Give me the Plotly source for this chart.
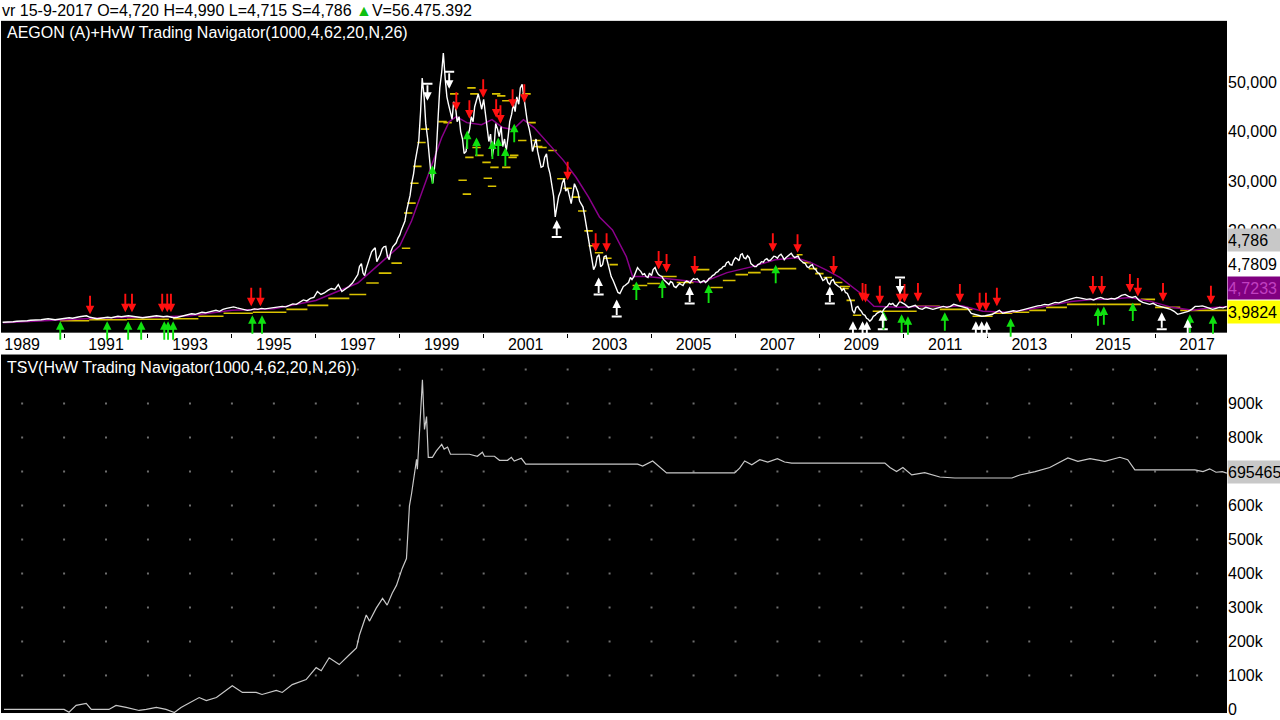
import numpy as np
import pandas as pd
import plotly.graph_objects as go

W, H = 1280, 720

# ---------------- data ----------------
header_text = "vr 15-9-2017 O=4,720 H=4,990 L=4,715 S=4,786 "
header_vol = "V=56.475.392"
title_top = "AEGON (A)+HvW Trading Navigator(1000,4,62,20,N,26)"
title_bottom = "TSV(HvW Trading Navigator(1000,4,62,20,N,26))"

# monthly (mid-month) closing prices, Jul 1988 .. Sep 2017
price_close = [
    1.6, 1.6, 1.7, 1.7, 1.8, 1.8,                                   # 1988 Jul-Dec
    1.9, 1.9, 2.0, 2.0, 2.1, 2.1, 2.2, 2.3, 2.2, 2.1, 2.2, 2.3,     # 1989
    2.4, 2.5, 2.4, 2.6, 2.7, 2.8, 2.9, 2.6, 2.4, 2.3, 2.4, 2.5,     # 1990
    2.6, 2.5, 2.7, 2.8, 2.7, 2.8, 2.9, 2.8, 2.7, 2.6, 2.5, 2.6,     # 1991
    2.7, 2.8, 2.9, 2.8, 2.7, 2.8, 2.6, 2.5, 2.6, 2.8, 3.0, 3.1,     # 1992
    3.3, 3.2, 3.4, 3.6, 3.5, 3.7, 3.9, 4.0, 3.8, 4.2, 4.4, 4.5,     # 1993
    4.7, 4.5, 4.3, 4.2, 4.0, 4.1, 4.3, 4.2, 4.4, 4.3, 4.4, 4.5,     # 1994
    4.5, 4.6, 4.8, 4.7, 5.0, 5.3, 5.2, 5.6, 6.1, 5.9, 6.4, 6.6,     # 1995
    7.8, 7.2, 7.5, 8.0, 8.4, 8.2, 9.2, 7.8, 8.3, 8.8, 9.5, 10.5,    # 1996
    12.8, 11.5, 12.4, 14.5, 16.2, 13.8, 15.2, 16.8, 14.9, 15.8, 17.2, 18.5,  # 1997
    20.2, 22.0, 25.5, 29.6, 34.0, 38.0, 50.8, 41.6, 35.0, 29.6, 36.0, 48.8,  # 1998
    55.8, 47.0, 44.0, 46.0, 42.0, 40.0, 35.6, 39.0, 43.0, 45.0, 47.6, 44.5,  # 1999
    44.0, 38.0, 35.0, 41.6, 39.0, 37.0, 36.0, 42.0, 45.6, 47.0, 48.8, 46.8,  # 2000
    42.0, 38.8, 37.0, 36.0, 32.8, 34.8, 33.0, 29.0, 22.8, 27.0, 29.6, 28.0,  # 2001
    26.8, 27.5, 28.8, 26.0, 24.8, 20.8, 16.8, 12.2, 14.8, 12.8, 14.8, 13.6,  # 2002
    10.8, 9.2, 7.6, 8.2, 9.0, 9.6, 10.2, 11.5, 12.2, 11.2, 10.8, 11.5,       # 2003
    12.2, 11.8, 11.0, 10.2, 9.6, 9.8, 8.8, 9.0, 9.2, 9.6, 9.8, 10.0,         # 2004
    10.2, 10.0, 9.8, 9.6, 10.4, 11.0, 11.6, 12.2, 12.8, 13.6, 13.2, 14.0,    # 2005
    14.4, 15.2, 14.6, 15.0, 13.4, 12.8, 13.2, 13.8, 14.2, 14.0, 14.5, 14.8,  # 2006
    15.0, 14.8, 14.6, 15.2, 15.0, 14.8, 14.2, 13.6, 12.8, 13.0, 12.4, 11.6,  # 2007
    10.8, 10.2, 9.6, 10.0, 9.4, 8.8, 8.0, 7.6, 6.8, 4.0, 4.6, 4.2,           # 2008
    3.2, 2.4, 1.8, 2.8, 3.4, 3.8, 4.2, 4.8, 5.2, 5.0, 5.4, 5.6,              # 2009
    5.2, 4.6, 4.8, 5.0, 4.4, 4.2, 4.6, 4.4, 4.2, 4.4, 4.6, 4.8,              # 2010
    4.6, 4.8, 5.2, 5.0, 4.8, 4.6, 4.4, 3.4, 3.2, 3.0, 2.8, 2.9,              # 2011
    3.0, 3.2, 3.6, 4.0, 3.4, 3.6, 3.8, 3.9, 3.8, 4.0, 4.2, 4.4,              # 2012
    4.6, 4.8, 4.9, 5.0, 5.2, 5.1, 5.3, 5.6, 5.5, 5.8, 6.0, 6.2,              # 2013
    6.4, 6.6, 6.5, 6.4, 6.2, 6.3, 6.1, 6.4, 6.6, 6.3, 6.2, 6.4,              # 2014
    6.3, 6.6, 7.0, 7.2, 6.8, 6.6, 6.8, 6.0, 5.6, 5.4, 5.2, 5.4,              # 2015
    5.0, 4.8, 4.6, 4.4, 4.2, 3.8, 3.2, 3.4, 3.6, 3.8, 4.2, 4.8,              # 2016
    4.8, 4.9, 4.7, 4.4, 4.2, 4.4, 4.6, 4.5, 4.786,                           # 2017 Jan-Sep
]

# start-of-month prices for the volatile years, Jan 1997 .. Dec 2009
price_month_start = [
    11.2, 13.4, 11.0, 13.6, 15.8, 16.6, 14.4, 16.4, 16.9, 14.2, 16.8, 17.6,  # 1997
    19.2, 21.4, 24.0, 27.2, 31.5, 36.5, 44.0, 47.0, 38.5, 31.0, 33.0, 43.0,  # 1998
    52.0, 50.5, 45.5, 42.5, 45.0, 43.0, 38.5, 36.0, 40.5, 42.0, 46.5, 46.0,  # 1999
    46.5, 41.0, 39.5, 37.0, 40.5, 41.0, 38.5, 39.0, 43.5, 44.0, 45.5, 49.5,  # 2000
    44.5, 40.5, 36.0, 38.5, 34.5, 33.0, 35.5, 31.5, 27.0, 25.0, 28.0, 30.5,  # 2001
    28.5, 25.5, 29.5, 27.8, 25.2, 22.6, 18.5, 14.5, 13.0, 15.2, 13.2, 15.0,  # 2002
    12.0, 10.0, 8.4, 7.4, 8.8, 9.4, 10.6, 10.8, 12.6, 11.8, 11.4, 10.6,      # 2003
    11.0, 12.6, 11.2, 10.8, 9.8, 9.2, 9.6, 8.6, 9.4, 9.0, 9.9, 9.5,          # 2004
    10.4, 10.4, 9.6, 10.0, 9.9, 10.6, 11.2, 11.8, 12.4, 12.9, 13.8, 13.1,    # 2005
    14.6, 14.0, 15.4, 14.4, 14.6, 13.0, 12.8, 13.4, 13.7, 14.4, 14.1, 14.9,  # 2006
    14.5, 15.3, 14.2, 14.9, 15.5, 14.6, 14.9, 13.8, 13.4, 12.6, 13.2, 12.2,  # 2007
    11.4, 10.0, 10.6, 9.2, 10.2, 9.0, 8.6, 8.4, 7.4, 5.8, 3.4, 4.8,          # 2008
    3.8, 3.0, 2.2, 2.2, 3.0, 3.6, 3.6, 4.6, 5.4, 5.4, 4.8, 5.8,              # 2009
]

# moving average (purple), decimal years
ma_t = [1988.55, 1990.0, 1991.0, 1992.0, 1993.0, 1994.0, 1995.0, 1996.0, 1997.0, 1997.5,
        1998.0, 1998.28, 1998.7, 1999.0, 1999.18, 1999.35, 1999.6, 1999.95, 2000.2, 2000.45,
        2000.7, 2000.95, 2001.2, 2001.55, 2001.9, 2002.2, 2002.5, 2002.76, 2003.07, 2003.4,
        2003.55, 2003.9, 2004.5, 2005.2, 2005.8, 2006.4, 2006.95, 2007.45, 2007.8, 2008.15,
        2008.5, 2008.96, 2009.3, 2009.9, 2010.5, 2011.0, 2011.4, 2011.9, 2012.5, 2013.0,
        2013.5, 2014.0, 2014.5, 2015.0, 2015.4, 2015.9, 2016.4, 2016.9, 2017.3, 2017.71]
ma_v = [1.5, 2.1, 2.5, 2.6, 2.9, 4.0, 4.3, 6.0, 9.5, 13.2,
        17.0, 22.0, 32.0, 38.8, 42.0, 43.0, 41.8, 41.4, 42.4, 40.8,
        40.4, 42.4, 40.8, 37.6, 34.2, 30.8, 26.8, 22.8, 20.2, 14.8,
        10.8, 10.8, 10.2, 9.6, 11.6, 12.8, 14.2, 14.6, 13.6, 12.2,
        10.6, 7.6, 4.8, 4.6, 4.8, 4.7, 4.9, 3.8, 3.6, 4.2,
        5.0, 5.8, 6.2, 6.3, 6.6, 5.8, 4.6, 4.0, 4.5, 4.7233]

# stop levels (yellow steps): start, end, level
stop_start = [1989.9, 1990.6, 1991.5, 1992.6, 1993.2, 1993.8, 1994.5, 1995.3, 1995.8, 1996.3,
              1996.8, 1997.2, 1997.5, 1997.8, 1998.05,
              2003.55, 2003.9, 2004.25, 2004.6, 2005.05, 2005.4, 2005.7, 2006.0, 2006.3, 2006.6,
              2007.0, 2007.46, 2008.49,
              2009.27, 2010.32, 2010.87, 2011.65, 2012.13, 2012.6, 2013.0, 2013.4, 2013.9,
              2014.6, 2015.66, 2016.0, 2016.6]
stop_end = [1990.6, 1991.5, 1992.5, 1993.2, 1993.8, 1994.5, 1995.3, 1995.8, 1996.3, 1996.8,
            1997.2, 1997.5, 1997.8, 1998.05, 1998.25,
            2003.9, 2004.2, 2004.6, 2005.0, 2005.38, 2005.7, 2006.0, 2006.3, 2006.6, 2007.0,
            2007.45, 2007.6, 2008.73,
            2010.32, 2010.87, 2011.65, 2012.13, 2012.6, 2013.0, 2013.4, 2013.9, 2014.6,
            2015.66, 2016.0, 2016.6, 2017.71]
stop_level = [1.9, 2.1, 2.2, 2.3, 2.8, 3.4, 3.6, 4.2, 5.0, 6.4,
              7.2, 9.5, 11.5, 13.5, 16.5,
              9.0, 9.4, 10.8, 9.6, 12.2, 8.6, 10.0, 11.2, 11.6, 12.2,
              12.4, 15.2, 8.8,
              3.8, 4.8, 4.2, 2.8, 3.4, 3.6, 4.0, 4.6, 5.2,
              5.2, 6.2, 4.6, 3.9824]

# short stop dashes (yellow)
dash_t = [1998.2, 1998.28, 1998.35, 1998.42, 1998.52, 1998.6, 1999.02, 1999.14, 1999.30, 1999.5,
          1999.6, 1999.66, 1999.71, 1999.78, 1999.83, 1999.90, 2000.07, 2000.1, 2000.2, 2000.26,
          2000.30, 2000.42, 2000.54, 2000.54, 2000.69, 2000.73, 2000.92, 2001.02, 2001.14, 2001.26,
          2001.3, 2001.40, 2001.64, 2001.85, 2002.0, 2002.2, 2002.35, 2002.5, 2002.6, 2002.75,
          2002.95, 2003.1, 2007.7, 2007.85, 2008.0, 2008.2, 2008.45, 2008.6, 2008.75, 2008.9]
dash_v = [23.6, 25.6, 29.6, 33.0, 37.8, 40.5, 42.0, 41.8, 47.6, 30.2,
          27.4, 34.8, 48.8, 47.6, 36.8, 35.2, 33.8, 30.6, 29.0, 32.8,
          47.6, 47.2, 46.2, 32.8, 34.8, 35.2, 38.2, 47.6, 41.8, 38.2,
          37.0, 36.8, 36.2, 30.5, 28.6, 26.8, 24.0, 20.0, 17.0, 15.6,
          14.5, 13.2, 13.6, 12.4, 11.4, 10.6, 9.6, 8.4, 6.0, 3.0]

# sell signals (red, pointing down) : decimal year, price at tip
sell_t = [1990.62, 1991.46, 1991.62, 1992.34, 1992.46, 1992.55, 1994.46, 1994.68,
          1999.35, 1999.66, 1999.99, 2000.30, 2000.40, 2000.69, 2000.97, 2002.00,
          2002.67, 2002.93, 2004.17, 2004.36, 2005.03, 2006.89, 2007.48, 2008.34,
          2009.03, 2009.10, 2009.44, 2009.92, 2010.03, 2010.35, 2011.35, 2011.82,
          2011.97, 2012.23, 2014.52, 2014.73, 2015.40, 2015.59, 2016.19, 2017.33]
sell_v = [3.2, 3.6, 3.6, 3.6, 3.6, 3.6, 4.8, 4.8,
          44.2, 42.6, 46.8, 42.8, 41.6, 44.8, 45.8, 30.2,
          15.8, 15.8, 12.2, 11.6, 11.2, 15.8, 15.6, 11.2,
          5.8, 5.6, 5.2, 5.6, 5.6, 5.8, 5.6, 3.8,
          3.8, 4.8, 7.2, 7.2, 7.6, 6.8, 5.8, 5.2]

# buy signals (green, pointing up)
buy_t = [1989.91, 1991.03, 1991.53, 1991.84, 1992.39, 1992.48, 1992.60, 1994.49, 1994.72,
         1998.78, 1999.61, 1999.83, 2000.21, 2000.35, 2000.52, 2000.73,
         2003.64, 2004.26, 2005.36, 2006.96, 2009.53, 2009.96, 2010.11, 2010.99,
         2012.56, 2014.64, 2014.78, 2015.47, 2016.83, 2017.38]
buy_v = [1.8, 1.8, 1.8, 1.8, 1.8, 1.8, 1.8, 3.0, 3.0,
         33.2, 40.2, 38.8, 38.2, 38.8, 36.8, 41.6,
         9.8, 10.2, 9.2, 13.2, 3.8, 3.2, 2.8, 3.6,
         2.4, 4.6, 4.8, 5.6, 3.2, 3.0]

# white markers at lows (up) and at highs (down)
low_t = [2001.74, 2002.74, 2003.17, 2004.91, 2008.25, 2008.80, 2009.03, 2009.13, 2009.51,
         2011.73, 2011.87, 2011.99, 2016.16, 2016.78]
low_v = [22.2, 10.6, 6.2, 8.8, 8.8, 1.8, 1.8, 1.8, 3.6,
         1.8, 1.8, 1.8, 3.6, 2.2]
high_t = [1998.66, 1999.18, 2009.92]
high_v = [46.2, 48.6, 7.2]

# total system value (bottom panel)
tsv_t = [1988.57, 1990.0, 1990.12, 1990.29, 1990.53, 1990.65, 1991.07, 1991.24, 1991.48, 1991.79,
         1991.96, 1992.20, 1992.43, 1992.63, 1992.79, 1993.22, 1993.39, 1993.63, 1994.01, 1994.25,
         1994.58, 1994.72, 1995.06, 1995.20, 1995.44, 1995.77, 1996.01, 1996.13, 1996.32, 1996.56,
         1996.80, 1996.97, 1997.04, 1997.20, 1997.28, 1997.44, 1997.59, 1997.70, 1997.82, 1997.92,
         1998.06, 1998.16, 1998.23, 1998.28, 1998.40, 1998.42, 1998.52, 1998.54, 1998.59, 1998.64,
         1998.68, 1998.78, 1998.87, 1999.0, 1999.06, 1999.14, 1999.21, 1999.66, 1999.85, 1999.97,
         2000.02, 2000.26, 2000.38, 2000.57, 2000.66, 2000.73, 2000.90, 2001.0, 2003.67, 2003.79,
         2004.03, 2004.26, 2004.36, 2005.98, 2006.1, 2006.22, 2006.39, 2006.58, 2006.77, 2007.0,
         2007.17, 2007.34, 2009.56, 2009.68, 2009.84, 2009.99, 2010.2, 2010.51, 2010.87, 2011.23,
         2012.59, 2012.78, 2013.14, 2013.49, 2013.73, 2013.92, 2014.16, 2014.45, 2014.8, 2015.16,
         2015.35, 2015.52, 2016.95, 2017.14, 2017.3, 2017.45, 2017.6, 2017.71]
tsv_v = [0, 0, -8000, 12000, 18000, 0, 0, 12000, 6000, -3000,
         0, 6000, 0, -9000, 6000, 35000, 26000, 35000, 70000, 50000,
         50000, 44000, 56000, 50000, 73000, 88000, 123000, 114000, 152000, 132000,
         161000, 181000, 219000, 278000, 260000, 298000, 327000, 307000, 342000, 365000,
         415000, 444000, 599000, 634000, 736000, 707000, 920000, 970000, 824000, 862000,
         742000, 742000, 760000, 780000, 766000, 772000, 751000, 751000, 745000, 757000,
         745000, 745000, 733000, 733000, 742000, 731000, 739000, 722000, 722000, 716000,
         731000, 707000, 696000, 696000, 710000, 731000, 720000, 735000, 728000, 738000,
         728000, 725000, 725000, 712000, 700000, 712000, 690000, 697000, 684000, 681000,
         681000, 690000, 700000, 712000, 728000, 740000, 730000, 738000, 730000, 742000,
         735000, 705000, 705000, 700000, 708000, 698000, 700000, 695465]

year_labels = list(range(1989, 2018, 2))
year_minor = list(range(1990, 2018, 2))
price_ticks = [20, 30, 40, 50]
tsv_ticks = [0, 100000, 200000, 300000, 400000, 500000, 600000, 700000, 800000, 900000]
tsv_tick_text = ["0", "100k", "200k", "300k", "400k", "500k", "600k", "700k", "800k", "900k"]
grid_levels = [100000, 200000, 300000, 400000, 500000, 600000, 700000, 800000, 900000, 1000000]

right_labels = [  # text, background, text colour, pixel centre y
    ("4,786", "#c8c8c8", "#000000", 242),
    ("4,7809", "#ffffff", "#000000", 266),
    ("4,7233", "#800080", "#c040c0", 290),
    ("3,9824", "#ffff00", "#000000", 314),
    ("695465", "#c8c8c8", "#000000", 475),
]


# ---------------- helpers ----------------
def ydate(v):
    y = int(np.floor(v))
    d = pd.Timestamp(year=y, month=1, day=1) + pd.Timedelta(days=(v - y) * 365.25)
    return d.strftime("%Y-%m-%d")


def px_x(p):
    return p / W


def px_y(p):
    return 1 - p / H


FONT = "Liberation Sans, Arial, Helvetica, sans-serif"
YELLOW = "#d9c200"

close_dates = (pd.date_range("1988-07-01", periods=len(price_close), freq="MS")
               + pd.Timedelta(days=14))
start_dates = pd.date_range("1997-01-01", periods=len(price_month_start), freq="MS")
price_df = pd.concat([
    pd.DataFrame({"d": close_dates, "v": price_close}),
    pd.DataFrame({"d": start_dates, "v": price_month_start}),
]).sort_values("d")

fig = go.Figure()

# yellow step stops
sx, sy = [], []
for a, b, lv in zip(stop_start, stop_end, stop_level):
    sx += [ydate(a), ydate(b), None]
    sy += [lv, lv, None]
fig.add_trace(go.Scatter(x=sx, y=sy, mode="lines", line=dict(color=YELLOW, width=1.6),
                         xaxis="x", yaxis="y", connectgaps=False, hoverinfo="skip"))
fig.add_trace(go.Scatter(x=[ydate(t) for t in dash_t], y=dash_v, mode="markers",
                         marker=dict(symbol="line-ew", size=6,
                                     line=dict(color=YELLOW, width=1.6)),
                         xaxis="x", yaxis="y", hoverinfo="skip"))
# purple MA
fig.add_trace(go.Scatter(x=[ydate(t) for t in ma_t], y=ma_v, mode="lines",
                         line=dict(color="#8a008a", width=1.5), xaxis="x", yaxis="y",
                         hoverinfo="skip"))
# price
fig.add_trace(go.Scatter(x=price_df["d"], y=price_df["v"], mode="lines",
                         line=dict(color="#ffffff", width=1.4), xaxis="x", yaxis="y",
                         hoverinfo="skip"))

# grid dots bottom panel
gx, gy = [], []
for yr in range(1989, 2018):
    for lv in grid_levels:
        gx.append(f"{yr}-01-01")
        gy.append(lv)
fig.add_trace(go.Scatter(x=gx, y=gy, mode="markers",
                         marker=dict(symbol="square", size=2, color="#6e6e6e"),
                         xaxis="x2", yaxis="y2", hoverinfo="skip"))
# TSV line
fig.add_trace(go.Scatter(x=[ydate(t) for t in tsv_t], y=tsv_v, mode="lines",
                         line=dict(color="#c8c8c8", width=1.2), xaxis="x2", yaxis="y2",
                         hoverinfo="skip"))

annotations = []
shapes = []


def arrow(t, v, color, ay):
    annotations.append(dict(x=ydate(t), y=v, xref="x", yref="y", text="", showarrow=True,
                            ax=0, ay=ay, arrowhead=2, arrowsize=0.9, arrowwidth=1.9,
                            arrowcolor=color, standoff=0))


for t, v in zip(sell_t, sell_v):
    arrow(t, v, "#ff1010", -20)
for t, v in zip(buy_t, buy_v):
    arrow(t, v, "#10e010", 20)
for t, v in zip(low_t, low_v):
    arrow(t, v, "#ffffff", 17)
    shapes.append(dict(type="line", xref="x", yref="y", xsizemode="pixel", ysizemode="pixel",
                       xanchor=ydate(t), yanchor=v, x0=-5, x1=5, y0=-17, y1=-17,
                       line=dict(color="#ffffff", width=2)))
for t, v in zip(high_t, high_v):
    arrow(t, v, "#ffffff", -17)
    shapes.append(dict(type="line", xref="x", yref="y", xsizemode="pixel", ysizemode="pixel",
                       xanchor=ydate(t), yanchor=v, x0=-5, x1=5, y0=17, y1=17,
                       line=dict(color="#ffffff", width=2)))

# header and titles
annotations.append(dict(x=0, y=px_y(11), xref="paper", yref="paper", xanchor="left",
                        yanchor="middle", showarrow=False,
                        text=header_text + "<span style='color:#10c010'>▲</span>" + header_vol,
                        font=dict(family=FONT, size=16, color="#000000")))
annotations.append(dict(x=px_x(5), y=px_y(33), xref="paper", yref="paper", xanchor="left",
                        yanchor="middle", showarrow=False, text=title_top,
                        font=dict(family=FONT, size=16, color="#ffffff")))
annotations.append(dict(x=px_x(5), y=px_y(370), xref="paper", yref="paper", xanchor="left",
                        yanchor="middle", showarrow=False, text=title_bottom,
                        font=dict(family=FONT, size=16, color="#ffffff")))
for txt, bg, fc, cy in right_labels:
    annotations.append(dict(x=px_x(1227), y=px_y(cy), xref="paper", yref="paper",
                            xanchor="left", yanchor="middle", showarrow=False, text=txt,
                            bgcolor=bg, width=53, height=22, align="left", borderpad=0,
                            font=dict(family=FONT, size=16, color=fc)))

x_range = [ydate(1988.50), ydate(2017.714)]

fig.update_layout(
    width=W, height=H, autosize=False,
    margin=dict(l=0, r=0, t=0, b=0),
    paper_bgcolor="#ffffff", plot_bgcolor="#000000",
    showlegend=False,
    font=dict(family=FONT, size=16, color="#000000"),
    xaxis=dict(domain=[px_x(1), px_x(1227)], range=x_range, anchor="y", type="date",
               tickmode="array", tickvals=[f"{y}-01-01" for y in year_labels],
               ticktext=[str(y) for y in year_labels], ticks="", showgrid=False,
               zeroline=False, showline=False, tickfont=dict(size=16, color="#000000"),
               minor=dict(tickmode="array", tickvals=[f"{y}-01-01" for y in year_minor],
                          ticks="outside", ticklen=4, tickcolor="#000000", showgrid=False)),
    yaxis=dict(domain=[px_y(335), px_y(21)], range=[-0.5, 62.3], anchor="x", side="right",
               tickmode="array", tickvals=price_ticks,
               ticktext=[f"{v},000" for v in price_ticks], showgrid=False, zeroline=False,
               ticks="", tickfont=dict(size=16, color="#000000")),
    xaxis2=dict(domain=[px_x(1), px_x(1227)], range=x_range, anchor="y2", type="date",
                matches="x", showticklabels=False, showgrid=False, zeroline=False, ticks=""),
    yaxis2=dict(domain=[px_y(718), px_y(357)], range=[-10500, 1044400], anchor="x2",
                side="right", tickmode="array", tickvals=tsv_ticks, ticktext=tsv_tick_text,
                showgrid=False, zeroline=False, ticks="", ticklabeloverflow="allow",
                tickfont=dict(size=16, color="#000000")),
    annotations=annotations,
    shapes=shapes,
)

fig.write_html("out.html", config={"displayModeBar": False})

# remove the browser's default 8px body margin so the 1280x720 figure fills the window
with open("out.html", "r", encoding="utf-8") as f:
    html = f.read()
html = html.replace("<head>", "<head><style>html,body{margin:0;padding:0;overflow:hidden;}</style>", 1)
with open("out.html", "w", encoding="utf-8") as f:
    f.write(html)
